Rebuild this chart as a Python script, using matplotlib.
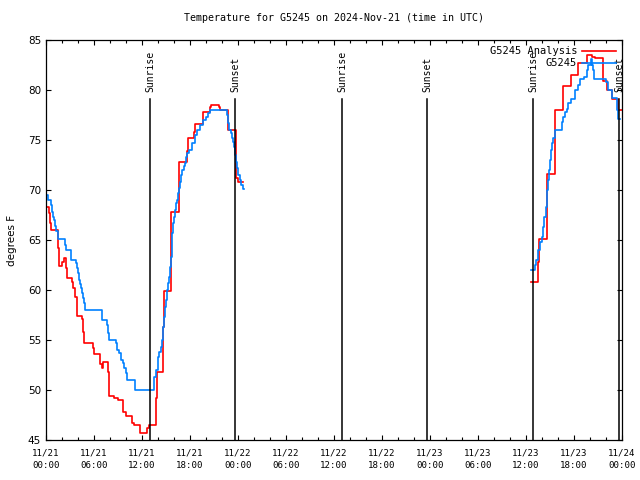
import numpy as np
import matplotlib
matplotlib.use("Agg")
import matplotlib.pyplot as plt

# hours since 2024-11-21 00:00 UTC, temperatures in F (step data)
ana_t1 = [0.0, 0.4, 0.55, 0.67, 1.54, 1.67, 2.04, 2.2, 2.54, 2.67, 3.21, 3.375, 3.58, 3.83,
          4.46, 4.58, 4.79, 5.92, 6.04, 6.75, 6.96, 7.17, 7.71, 7.875, 8.5, 9.04, 9.67, 9.96,
          10.71, 11.0, 11.75, 12.67, 12.92, 13.71, 13.83, 14.67, 14.75, 15.58, 16.67, 17.58,
          17.7, 18.54, 18.6, 19.66, 20.5, 20.6, 21.6, 21.75, 22.8, 23.7, 23.8, 24.0, 24.6]
ana_v1 = [68.3, 67.7, 66.7, 66.0, 64.2, 62.4, 62.8, 63.2, 62.2, 61.2, 60.8, 60.2, 59.3, 57.4,
          57.1, 55.8, 54.7, 54.2, 53.6, 52.6, 52.2, 52.8, 51.8, 49.4, 49.2, 49.0, 47.8, 47.4,
          46.7, 46.5, 45.7, 46.2, 46.5, 49.2, 51.8, 56.3, 59.9, 67.8, 72.8, 73.9,
          75.2, 75.8, 76.6, 77.8, 78.3, 78.5, 78.3, 78.0, 76.0, 73.7, 71.2, 70.8, 70.8]
ana_t3 = [60.6, 61.5, 61.67, 62.6, 63.6, 64.58, 65.58, 66.54, 67.58, 68.2, 68.6, 69.58,
          70.17, 70.7, 71.5, 72.0]
ana_v3 = [60.8, 62.8, 65.1, 71.6, 78.0, 80.4, 81.5, 82.7, 83.5, 83.3, 83.2, 80.9,
          80.0, 79.1, 78.0, 78.0]

obs_t1 = [0.0, 0.25, 0.58, 0.71, 0.83, 0.96, 1.125, 1.25, 1.54, 2.375, 2.5, 3.125, 3.71, 3.83,
          3.96, 4.08, 4.21, 4.33, 4.46, 4.58, 4.71, 4.83, 6.96, 7.58, 7.71, 7.875, 8.75, 8.92,
          9.17, 9.33, 9.58, 9.75, 10.0, 10.17, 11.125, 13.54, 13.75, 14.04, 14.17, 14.33, 14.54,
          14.67, 14.79, 14.92, 15.04, 15.17, 15.29, 15.42, 15.54, 15.625, 15.71, 15.79, 15.92,
          16.04, 16.17, 16.29, 16.42, 16.54, 16.67, 16.79, 16.92, 17.04, 17.2, 17.33, 17.46,
          17.67, 17.875, 18.2, 18.6, 18.83, 19.25, 19.67, 20.0, 20.2, 20.5, 22.67, 22.79, 22.92,
          23.08, 23.2, 23.33, 23.5, 23.625, 23.75, 23.92, 24.04, 24.25, 24.42, 24.58, 24.7]
obs_v1 = [69.5, 69.0, 68.5, 67.8, 67.3, 67.0, 66.4, 65.9, 65.1, 64.5, 64.0, 63.0, 62.7, 62.2,
          61.7, 61.0, 60.6, 60.2, 59.7, 59.2, 58.7, 58.0, 57.0, 56.5, 55.7, 55.0, 54.7, 54.0,
          53.7, 53.0, 52.7, 52.2, 51.7, 51.0, 50.0, 51.3, 52.0, 53.3, 53.8, 54.3, 55.0,
          56.3, 57.3, 58.3, 59.0, 60.0, 60.7, 61.3, 62.3, 63.3, 64.3, 65.7, 66.7,
          67.3, 68.0, 68.7, 69.0, 69.7, 70.2, 70.8, 71.5, 72.0, 72.4, 72.7, 73.3,
          73.7, 74.0, 74.7, 75.5, 76.0, 76.5, 77.0, 77.3, 77.7, 78.0, 77.5, 76.7, 76.0,
          75.7, 75.2, 74.8, 74.3, 73.5, 72.8, 72.2, 71.5, 71.0, 70.5, 70.1, 70.1]
obs_t3 = [60.6, 61.1, 61.3, 61.54, 61.75, 61.96, 62.17, 62.29, 62.46, 62.58, 62.71, 62.875,
          63.0, 63.125, 63.29, 63.42, 63.625, 64.46, 64.54, 64.67, 64.875, 65.08, 65.3, 65.6,
          66.125, 66.54, 66.75, 67.25, 67.58, 67.79, 68.08, 68.2, 68.42, 68.54, 70.0, 70.29,
          70.7, 71.33, 71.54, 71.8]
obs_v3 = [62.0, 62.5, 63.0, 64.0, 64.8, 65.3, 66.3, 67.3, 68.3, 70.0, 71.0, 72.0,
          73.0, 74.0, 74.7, 75.2, 76.0, 76.2, 76.8, 77.3, 77.8, 78.1, 78.7, 79.1,
          80.0, 80.5, 81.1, 81.3, 82.0, 82.5, 83.1, 82.5, 82.0, 81.1, 80.8, 80.0,
          79.2, 78.0, 77.1, 77.1]

sun_times = [13.0, 23.625, 37.0, 47.625, 60.875, 71.625]
sun_labels = ["Sunrise", "Sunset", "Sunrise", "Sunset", "Sunrise", "Sunset"]

xtick_labels = ["11/21\n00:00", "11/21\n06:00", "11/21\n12:00", "11/21\n18:00",
                "11/22\n00:00", "11/22\n06:00", "11/22\n12:00", "11/22\n18:00",
                "11/23\n00:00", "11/23\n06:00", "11/23\n12:00", "11/23\n18:00",
                "11/24\n00:00"]

mono = "DejaVu Sans Mono"

fig = plt.figure(figsize=(6.4, 4.8), dpi=100)
ax = fig.add_axes([46 / 640, 40 / 480, 576 / 640, 400 / 480])

red = "#ff0000"
blue = "#0080ff"

ax.step(ana_t1, ana_v1, where="post", color=red, lw=1.2, label="G5245 Analysis")
ax.step(ana_t3, ana_v3, where="post", color=red, lw=1.2)
ax.step(obs_t1, obs_v1, where="post", color=blue, lw=1.2, label="G5245")
ax.step(obs_t3, obs_v3, where="post", color=blue, lw=1.2)

for t, lab in zip(sun_times, sun_labels):
    ax.plot([t, t], [45, 79.1], color="black", lw=1.1)
    ax.text(t, 79.8, lab, rotation=90, ha="center", va="bottom",
            fontsize=7, family=mono)

ax.set_xlim(0, 72)
ax.set_ylim(45, 85)
ax.set_xticks(np.arange(0, 73, 6))
ax.set_xticks(np.arange(0, 73, 2), minor=True)
ax.set_xticklabels(xtick_labels, family=mono, fontsize=6.6, linespacing=1.55)
ax.set_yticks(np.arange(45, 86, 5))
ax.tick_params(axis="y", labelsize=7.5)
ax.tick_params(which="both", direction="in", top=True, right=True)
ax.tick_params(which="major", length=3.5, width=0.8)
ax.tick_params(which="minor", length=2, width=0.8)
ax.tick_params(axis="x", pad=6)
for s in ax.spines.values():
    s.set_linewidth(0.9)

ax.set_ylabel("degrees F", fontsize=7.5, labelpad=8)
ax.set_title("Temperature for G5245 on 2024-Nov-21 (time in UTC)",
             family=mono, fontsize=7.2, pad=14)

ax.legend(loc="upper right", frameon=False, markerfirst=False,
          prop={"family": mono, "size": 7.5}, handlelength=3.2,
          labelspacing=0.2, borderaxespad=0.2, handletextpad=0.5)

fig.savefig("out.png", dpi=100)
